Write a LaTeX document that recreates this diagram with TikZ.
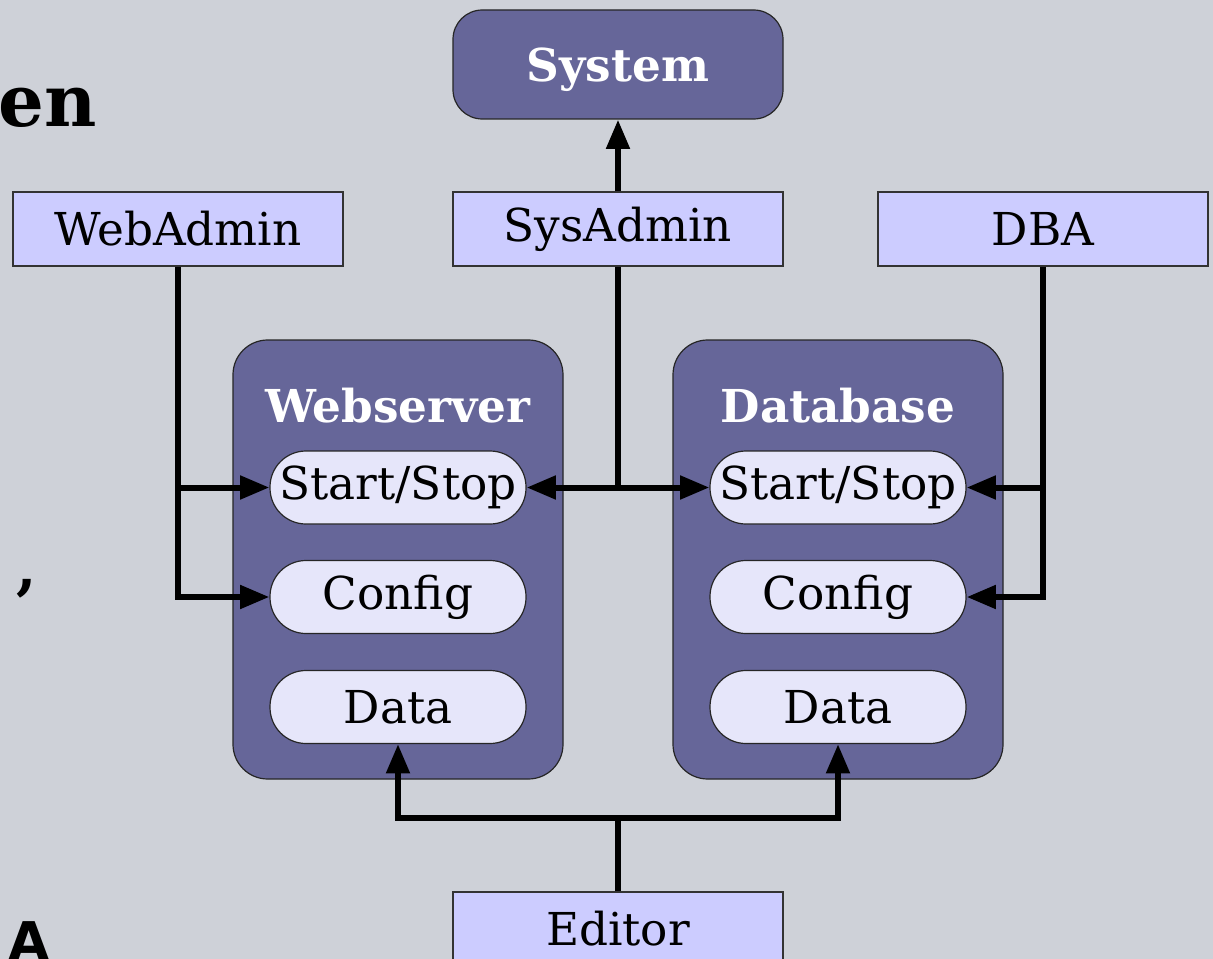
\documentclass[tikz,border=0pt]{standalone}
\usepackage{fontspec}
\setmainfont{DejaVu Serif}
\newfontfamily\headsans{DejaVu Sans}
\usetikzlibrary{arrows.meta,positioning}

\definecolor{bgcol}{HTML}{CED1D8}
\definecolor{boxcol}{HTML}{CCCCFF}
\definecolor{servercol}{HTML}{666699}
\definecolor{pillcol}{HTML}{E6E6FA}

\tikzset{
  role/.style={draw=black!80, line width=0.9pt, fill=boxcol, inner sep=0pt,
    minimum width=247.5pt, minimum height=55.5pt,
    font=\fontsize{34}{40}\selectfont},
  hostbox/.style={draw=black!85, line width=0.9pt, fill=servercol, inner sep=0pt,
    rounded corners=26pt, minimum width=247.5pt, minimum height=329.25pt},
  topbox/.style={draw=black!85, line width=0.9pt, fill=servercol, inner sep=0pt,
    rounded corners=22pt, minimum width=247.5pt, minimum height=81.75pt,
    text=white, text depth=0pt, font=\bfseries\fontsize{34}{40}\selectfont},
  hosttitle/.style={text=white, inner sep=0pt, font=\bfseries\fontsize{34}{40}\selectfont},
  pill/.style={draw=black!85, line width=0.9pt, fill=pillcol, inner sep=0pt,
    rounded corners=27pt, minimum width=192pt, minimum height=54.75pt,
    font=\fontsize{34}{40}\selectfont},
  wire/.style={line width=4.5pt, black},
  feed/.style={wire, -{Triangle[length=22pt,width=17pt]}},
}

\begin{document}
\begin{tikzpicture}[x=0.75pt,y=-0.75pt]
  % backdrop
  \fill[bgcol] (0,0) rectangle (1213,959);
  \useasboundingbox (0,0) rectangle (1213,959);

  % fragments of slide text behind the diagram
  \node[anchor=base east, inner sep=0pt, font=\bfseries\fontsize{54}{60}\selectfont] (frag1) at (97,127) {en};
  \node[anchor=base west, inner sep=0pt, font=\bfseries\fontsize{44}{50}\selectfont] (frag2) at (16,588) {,};
  \node[anchor=base west, inner sep=0pt, font=\headsans\bfseries\fontsize{40}{46}\selectfont] (frag3) at (8,960) {A};

  % top level system
  \node[topbox] (system) at (618,64.5) {System};

  % administrator roles
  \node[role] (webadmin) at (178,229) {WebAdmin};
  \node[role] (sysadmin) at (618,229) {SysAdmin};
  \node[role] (dba) at (1043,229) {DBA};
  \node[role] (editor) at (618,929) {Editor};

  % servers
  \node[hostbox] (webserver) at (398,559.5) {};
  \node[hostbox] (database) at (838,559.5) {};
  \node[hosttitle] (wstitle) at (398,406) {Webserver};
  \node[hosttitle] (dbtitle) at (838,406) {Database};

  \node[pill] (wsss) at (398,487.5) {Start/Stop};
  \node[pill] (wscfg) at (398,597) {Config};
  \node[pill] (wsdata) at (398,707) {Data};
  \node[pill] (dbss) at (838,487.5) {Start/Stop};
  \node[pill] (dbcfg) at (838,597) {Config};
  \node[pill] (dbdata) at (838,707) {Data};

  % system administrator
  \draw[feed] (sysadmin.north) -- (system.south);
  \coordinate (sysjoin) at (sysadmin.south |- wsss.east);
  \draw[wire] (sysadmin.south) -- (sysjoin);
  \draw[feed] (sysjoin) -- (wsss.east);
  \draw[feed] (sysjoin) -- (dbss.west);

  % web administrator
  \draw[feed] (webadmin.south) |- (wscfg.west);
  \draw[feed] (webadmin.south |- wsss.west) -- (wsss.west);

  % database administrator
  \draw[feed] (dba.south) |- (dbcfg.east);
  \draw[feed] (dba.south |- dbss.east) -- (dbss.east);

  % editor
  \coordinate (edjoin) at (618,818);
  \draw[wire] (editor.north) -- (edjoin);
  \draw[feed] (edjoin) -| (wsdata.south);
  \draw[feed] (edjoin) -| (dbdata.south);
\end{tikzpicture}
\end{document}
